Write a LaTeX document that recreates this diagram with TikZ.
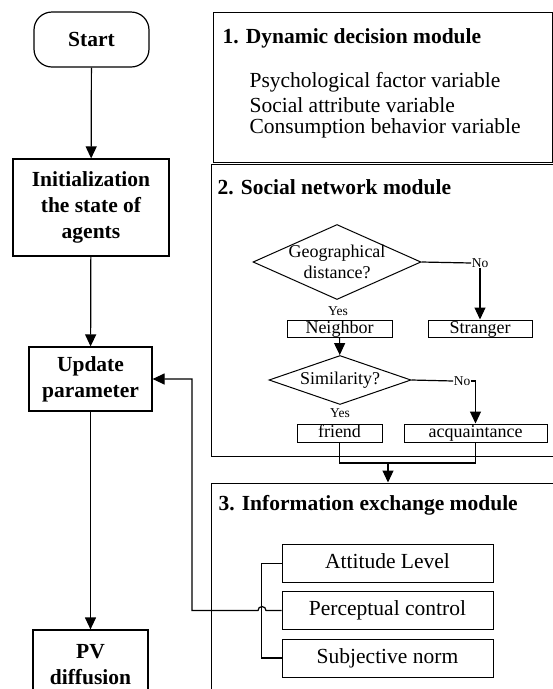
\documentclass[tikz,border=0pt]{standalone}
\usepackage{fontspec}
\setmainfont{Liberation Serif}
\usetikzlibrary{shapes.geometric,arrows.meta}

\begin{document}
\begin{tikzpicture}
  [x=1pt,y=-1pt,line width=1.2pt,
   every node/.style={inner sep=0pt,align=center},
   big/.style={font=\fontsize{21.5}{26}\selectfont},
   bigbf/.style={font=\fontsize{21.5}{26}\selectfont\bfseries},
   small/.style={font=\fontsize{18}{21}\selectfont},
   tiny/.style={font=\fontsize{13.5}{15}\selectfont},
   box/.style={draw,rectangle},
   item/.style={draw,rectangle,line width=1pt,text height=13pt,text depth=4pt},
   bigitem/.style={draw,rectangle,line width=1pt,text height=15pt,text depth=5pt},
   module/.style={draw,rectangle,line width=1pt},
   decision/.style={draw,diamond,line width=1pt},
   arrow/.style={-{Triangle[length=12pt,width=11pt]}}]
  \clip (0,0) rectangle (553,689);
  \node[box,bigbf,rounded corners=18pt,minimum width=115,minimum height=55] (start) at (91.5,39.5) {Start};
  \node[box,bigbf,minimum width=156,minimum height=97] (init) at (91,207.5) {Initialization\\the state of\\agents};
  \node[box,bigbf,minimum width=123,minimum height=64] (update) at (90.5,379) {Update\\parameter};
  \node[box,bigbf,minimum width=115,minimum height=70] (pv) at (90.5,665) {PV\\diffusion};
  \foreach \from/\to in {start/init,init/update,update/pv}
    \draw[arrow] (\from) -- (\to);

  \node[module,minimum width=339,minimum height=150] (m1) at (382.5,87) {};
  \node[module,minimum width=349,minimum height=292] (m2) at (385.5,310) {};
  \node[module,minimum width=349,minimum height=217] (m3) at (385.5,591.5) {};

  \node[bigbf,anchor=west] (t1) at (222,38) {1. Dynamic decision module};
  \foreach \i/\txt in {1/Psychological factor variable,2/Social attribute variable,3/Consumption behavior variable}
    \node[big,anchor=west] (var\i) at (249,59+23*\i) {\txt};

  \node[bigbf,anchor=west] (t2) at (217,187) {2. Social network module};
  \node[decision,minimum width=168,minimum height=75] (geo) at (337,262) {};
  \node[small] (geotxt) at (geo) {Geographical\\distance?};
  \node[tiny] (no1) at (480,263) {No};
  \node[tiny] (yes1) at (338,311) {Yes};
  \node[item,small,minimum width=105,minimum height=17] (neighbor) at (339.5,328.5) {Neighbor};
  \node[item,small,minimum width=104,minimum height=17] (stranger) at (480,328.5) {Stranger};
  \node[decision,minimum width=142,minimum height=49] (sim) at (340,380) {};
  \node[small] (simtxt) at (sim) {Similarity?};
  \node[tiny] (no2) at (462,381) {No};
  \node[tiny] (yes2) at (340,413) {Yes};
  \node[item,small,minimum width=85,minimum height=18] (friend) at (339.5,433) {friend};
  \node[item,small,minimum width=143,minimum height=18] (acq) at (475.5,433) {acquaintance};
  \coordinate (merge) at (388,463);
  \draw (geo.east) -- (no1.west);
  \draw[arrow] (no1) -- (stranger);
  \draw[arrow] (neighbor) -- (sim);
  \draw (sim.east) -- (no2.west);
  \draw[arrow] (no2.east) -| (acq.north);
  \draw (friend.south) |- (merge) -| (acq.south);
  \draw[arrow] (merge) -- (merge |- m3.north);

  \node[bigbf,anchor=west] (t3) at (218,505) {3. Information exchange module};
  \node[bigitem,big,minimum width=211,minimum height=38] (att) at (387.5,563.5) {Attitude Level};
  \node[bigitem,big,minimum width=211,minimum height=38] (perc) at (387.5,610.5) {Perceptual control};
  \node[bigitem,big,minimum width=211,minimum height=38] (subj) at (387.5,658) {Subjective norm};
  \draw (att.west) -- ++(-20,0) |- (subj.west);
  \draw[arrow] (perc.west) -- (266,610.5) arc (0:-180:4) -- (192,610.5) |- (update.east);
\end{tikzpicture}
\end{document}
